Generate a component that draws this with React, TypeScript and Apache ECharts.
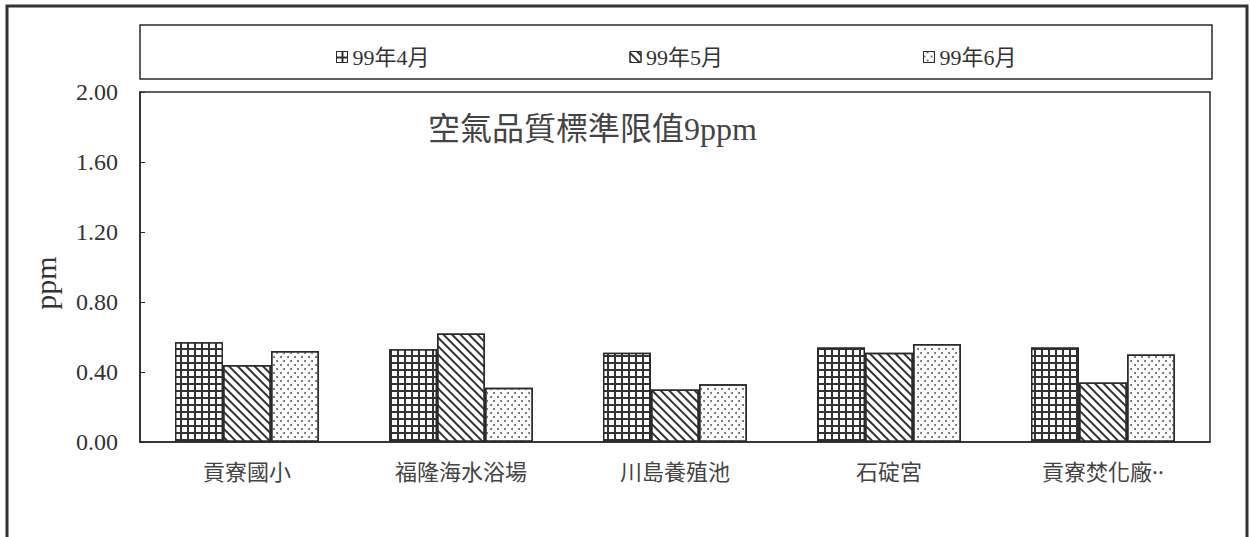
import React, { useEffect, useRef } from 'react';
import * as echarts from 'echarts';

const categories = ['貢寮國小', '福隆海水浴場', '川島養殖池', '石碇宮', '貢寮焚化廠··'];
const seriesNames = ['99年4月', '99年5月', '99年6月'];
const aprValues = [0.57, 0.53, 0.51, 0.54, 0.54];
const mayValues = [0.44, 0.62, 0.3, 0.51, 0.34];
const junValues = [0.52, 0.31, 0.33, 0.56, 0.5];
const yMin = 0;
const yMax = 2;
const yInterval = 0.4;
const noteText = '空氣品質標準限值9ppm';
const axisName = 'ppm';

const SERIF = '"Liberation Serif", "Noto Sans CJK TC", serif';
const CJK = '"Noto Sans", "Noto Sans CJK TC", sans-serif';
const INK = '#2a2a2a';

export default function App() {
  const ref = useRef<HTMLDivElement>(null);

  useEffect(() => {
    document.body.style.margin = '0';
    if (!ref.current) return;
    const chart = echarts.init(ref.current, null, { renderer: 'svg' });

    const barBase = {
      type: 'bar' as const,
      barWidth: 48,
      barGap: '0%',
      barCategoryGap: '30%',
    };

    chart.setOption({
      animation: false,
      backgroundColor: '#fff',
      title: {
        text: noteText,
        left: 428,
        top: 113,
        padding: 0,
        textStyle: { fontSize: 32, fontWeight: 'normal', color: '#444', fontFamily: SERIF },
      },
      legend: {
        data: seriesNames,
        left: 331,
        top: 41,
        itemGap: 200,
        itemWidth: 11,
        itemHeight: 11,
        icon: 'rect',
        itemStyle: { borderColor: INK, borderWidth: 1 },
        textStyle: { fontSize: 22, color: '#333', fontFamily: SERIF },
      },
      grid: {
        left: 140,
        right: 41,
        top: 92,
        bottom: 95,
        show: true,
        borderColor: INK,
        borderWidth: 1.5,
        backgroundColor: 'transparent',
      },
      xAxis: {
        type: 'category',
        data: categories,
        axisLine: { show: true, lineStyle: { color: INK, width: 1.5 } },
        axisTick: { show: false },
        axisLabel: { fontSize: 22, color: '#444', fontFamily: CJK, margin: 18 },
      },
      yAxis: {
        type: 'value',
        min: yMin,
        max: yMax,
        interval: yInterval,
        axisLine: { show: true, lineStyle: { color: INK, width: 1.5 } },
        axisTick: { show: true, inside: true, length: 5, lineStyle: { color: INK } },
        splitLine: { show: false },
        axisLabel: {
          fontSize: 24,
          color: '#333',
          fontFamily: SERIF,
          margin: 22,
          formatter: (v: number) => v.toFixed(2),
        },
      },
      graphic: [
        {
          type: 'rect',
          shape: { x: 7, y: 6, width: 1240, height: 545 },
          style: { fill: 'none', stroke: '#333', lineWidth: 3 },
          silent: true,
        },
        {
          type: 'rect',
          shape: { x: 140, y: 25, width: 1072, height: 54 },
          style: { fill: 'none', stroke: INK, lineWidth: 1.5 },
          silent: true,
        },
        {
          type: 'text',
          x: 45,
          y: 283,
          rotation: Math.PI / 2,
          style: {
            text: axisName,
            fontSize: 30,
            fontFamily: SERIF,
            fill: '#333',
            align: 'center',
            verticalAlign: 'middle',
          },
          silent: true,
        },
      ],
      series: [
        {
          ...barBase,
          name: seriesNames[0],
          data: aprValues,
          itemStyle: {
            color: '#333',
            borderColor: INK,
            borderWidth: 1.5,
            decal: {
              symbol: 'rect',
              symbolSize: 1,
              color: '#fff',
              dashArrayX: [5, 1.4],
              dashArrayY: [5, 1.4],
              rotation: 0,
            },
          },
        },
        {
          ...barBase,
          name: seriesNames[1],
          data: mayValues,
          itemStyle: {
            color: '#fff',
            borderColor: INK,
            borderWidth: 1.5,
            decal: {
              symbol: 'rect',
              symbolSize: 1,
              color: '#333',
              dashArrayX: [1, 0],
              dashArrayY: [1.2, 3.5],
              rotation: Math.PI / 4,
            },
          },
        },
        {
          ...barBase,
          name: seriesNames[2],
          data: junValues,
          itemStyle: {
            color: '#fff',
            borderColor: INK,
            borderWidth: 1.5,
            decal: {
              symbol: 'circle',
              symbolSize: 1,
              color: '#666',
              dashArrayX: [
                [1.6, 4.4],
                [0, 3, 1.6, 1.4],
              ],
              dashArrayY: [1.6, 1.4],
              rotation: 0,
            },
          },
        },
      ],
    });

    return () => {
      chart.dispose();
    };
  }, []);

  return <div ref={ref} style={{ width: 1251, height: 537 }} />;
}
